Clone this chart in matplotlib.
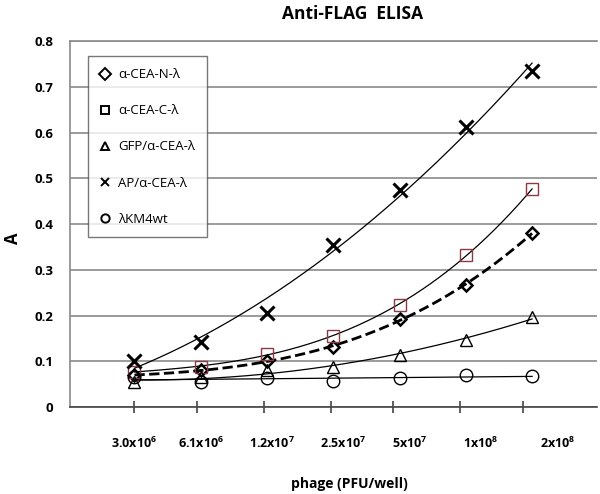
import numpy as np
import matplotlib
matplotlib.use("Agg")
import matplotlib.pyplot as plt
from matplotlib.lines import Line2D

# ==========================================================
# Data
# ==========================================================

dose_labels = ["3.0x10$^{6}$", "6.1x10$^{6}$", "1.2x10$^{7}$", "2.5x10$^{7}$",
               "5x10$^{7}$", "1x10$^{8}$", "2x10$^{8}$"]

cea_n = [0.070, 0.080, 0.100, 0.132, 0.192, 0.267, 0.380]
cea_c = [0.077, 0.088, 0.117, 0.155, 0.224, 0.332, 0.476]
gfp_cea = [0.055, 0.065, 0.080, 0.088, 0.114, 0.146, 0.197]
ap_cea = [0.101, 0.143, 0.205, 0.354, 0.475, 0.613, 0.735]
km4wt = [0.066, 0.055, 0.063, 0.057, 0.063, 0.070, 0.068]

series_names = ["α-CEA-N-λ", "α-CEA-C-λ", "GFP/α-CEA-λ", "AP/α-CEA-λ", "λKM4wt"]

# ==========================================================
# Figure
# ==========================================================

plt.rcParams["font.family"] = ["Open Sans", "DejaVu Sans"]
plt.rcParams["mathtext.fontset"] = "custom"
plt.rcParams["mathtext.rm"] = "Open Sans:bold"
plt.rcParams["mathtext.it"] = "Open Sans:bold"
plt.rcParams["mathtext.bf"] = "Open Sans:bold"

fig = plt.figure(figsize=(6, 4.94), dpi=100)
ax = fig.add_axes([0.117, 0.176, 0.878, 0.741])

x = np.arange(len(dose_labels))
xs = np.linspace(x[0], x[-1], 200)

# deg = order of the polynomial trendline
styles = [
    dict(data=cea_n, marker="D", ms=6, mec="black", mew=1.8, ls="--", lw=2.0, deg=3),
    dict(data=cea_c, marker="s", ms=9, mec="#8b3a45", mew=1.0, ls="-", lw=0.9, deg=3),
    dict(data=gfp_cea, marker="^", ms=9, mec="black", mew=1.0, ls="-", lw=0.9, deg=2),
    dict(data=ap_cea, marker="x", ms=10, mec="black", mew=2.2, ls="-", lw=0.9, deg=2),
    dict(data=km4wt, marker="o", ms=9, mec="black", mew=1.0, ls="-", lw=0.9, deg=1),
]

handles = []
for name, st in zip(series_names, styles):
    y = np.array(st["data"])
    fit = np.polyval(np.polyfit(x, y, st["deg"]), xs)
    ax.plot(xs, fit, color="black", ls=st["ls"], lw=st["lw"], zorder=3)
    ax.plot(x, y, ls="none", marker=st["marker"], ms=st["ms"], mfc="none",
            mec=st["mec"], mew=st["mew"], zorder=4)
    handles.append(Line2D([], [], ls="none", marker=st["marker"], ms=6, mfc="none",
                          mec="black", mew=1.4))

# ==========================================================
# Axes styling
# ==========================================================

ax.set_xlim(-0.97, 6.98)
ax.set_ylim(0, 0.8)

ax.set_yticks(np.arange(0, 0.81, 0.1))
ax.set_yticklabels(["0"] + [f"{v:.1f}" for v in np.arange(0.1, 0.81, 0.1)],
                   fontsize=9.5, fontweight="bold")
ax.tick_params(axis="y", length=0, pad=12)
ax.yaxis.grid(True, color="#8a8a8a", lw=1.2)
ax.set_axisbelow(True)

# tick marks near the points, labels a little further right as in the source
tick_pos = [0, 0.95, 1.96, 2.96, 3.9, 4.91, 5.86]
label_pos = [0, 1.0, 2.08, 3.15, 4.15, 5.22, 6.38]
ax.set_xticks(tick_pos)
ax.set_xticklabels([])
ax.tick_params(axis="x", which="major", direction="inout", length=8, width=1.2,
               color="#444444")
for lp, lab in zip(label_pos, dose_labels):
    ax.text(lp, -0.098, lab, transform=ax.get_xaxis_transform(), ha="center",
            va="center", fontsize=9, fontweight="bold")

ax.spines["right"].set_visible(False)
ax.spines["left"].set_color("#8a8a8a")
ax.spines["top"].set_color("#8a8a8a")
ax.spines["bottom"].set_color("#444444")
for side in ["left", "top", "bottom"]:
    ax.spines[side].set_linewidth(1.2)

fig.text(0.583, 0.02, "phage (PFU/well)", ha="center", va="center",
         fontsize=10, fontweight="bold")
fig.text(0.022, 0.518, "A", rotation=90, ha="center", va="center",
         fontsize=12, fontweight="bold")
fig.text(0.588, 0.972, "Anti-FLAG  ELISA", ha="center", va="center",
         fontsize=12.5, fontweight="bold")

leg = ax.legend(handles, series_names, loc="upper left",
                bbox_to_anchor=(0.034, 0.958), fontsize=9.5, frameon=True,
                fancybox=False, edgecolor="#555555", labelspacing=1.75,
                handlelength=0.8, handletextpad=0.6, borderpad=0.9,
                borderaxespad=0)
leg.get_frame().set_linewidth(1.0)
leg.set_zorder(5)

fig.savefig("out.png", dpi=100)
